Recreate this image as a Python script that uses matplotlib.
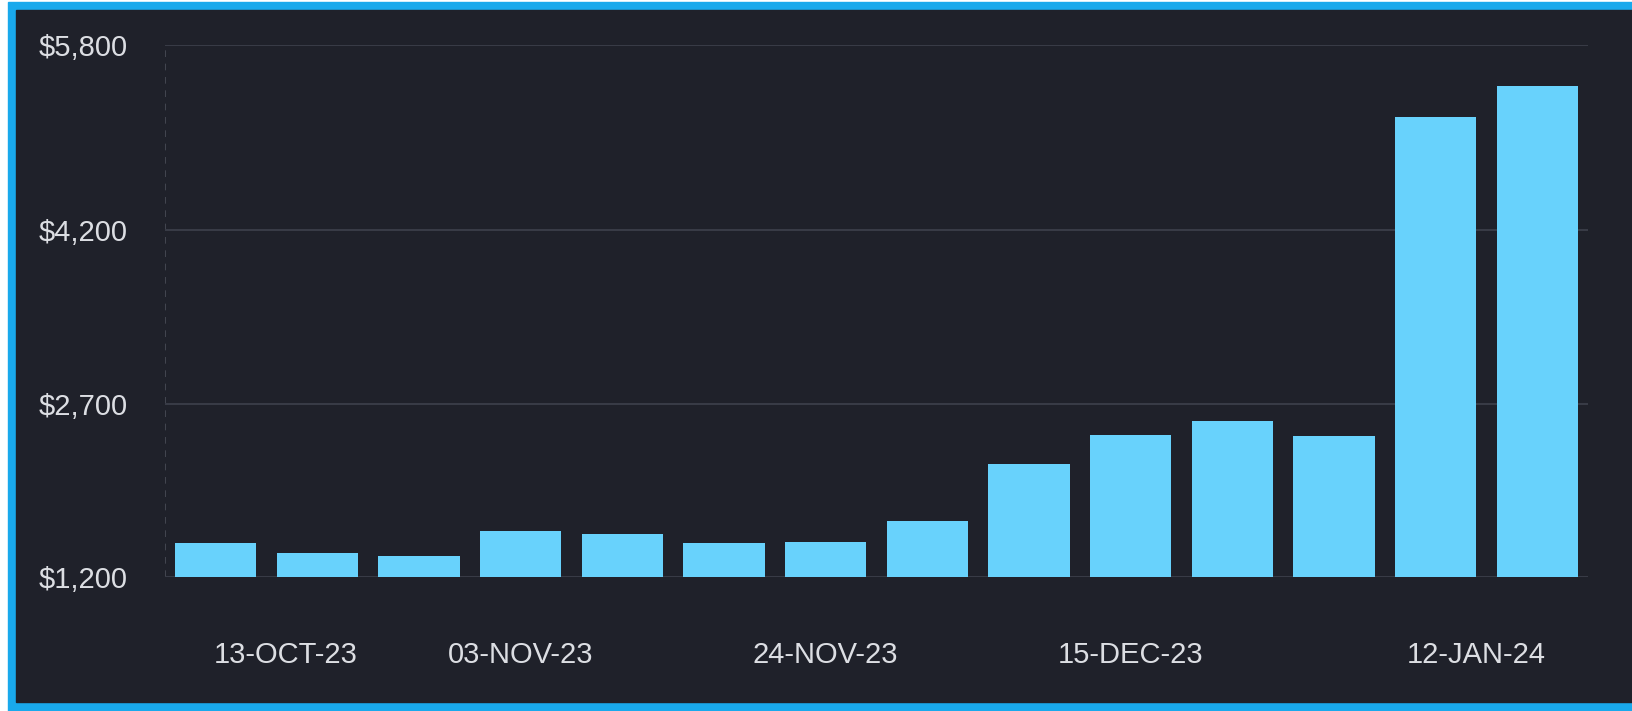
import matplotlib.pyplot as plt
from matplotlib.patches import Rectangle

# weekly spend, one bar per week
weeks = ['13-OCT-23', '20-OCT-23', '27-OCT-23', '03-NOV-23', '10-NOV-23', '17-NOV-23',
         '24-NOV-23', '01-DEC-23', '08-DEC-23', '15-DEC-23', '22-DEC-23', '29-DEC-23',
         '05-JAN-24', '12-JAN-24']
spend = [1490, 1410, 1385, 1600, 1570, 1490, 1500, 1680, 2175, 2430, 2545, 2420, 5175, 5445]

tick_labels = ['13-OCT-23', '03-NOV-23', '24-NOV-23', '15-DEC-23', '12-JAN-24']
tick_pos = [0.69, 3, 6, 9, 12.4]
y_ticks = [1200, 2700, 4200, 5800]

W, H = 1632, 711
bg = '#1f212a'
bar_col = '#68d2fc'
txt_col = '#dcdee3'

fig = plt.figure(figsize=(W / 100, H / 100), dpi=100, facecolor='white')
# cyan frame + dark panel, kept behind the axes
fig.patches.append(Rectangle((8 / W, 0), 1, 1 - 2 / H, transform=fig.transFigure,
                             color='#19a9ec', zorder=-10))
fig.patches.append(Rectangle((16 / W, 9 / H), 1, 1 - 19 / H, transform=fig.transFigure,
                             color=bg, zorder=-9))

ax = fig.add_axes([165 / W, 1 - 577 / H, (1588 - 165) / W, (577 - 45) / H])
ax.set_facecolor('none')

x = list(range(len(weeks)))
ax.bar(x, spend, width=0.8, bottom=0, color=bar_col, zorder=3)
ax.set_xlim(-0.5, len(weeks) - 0.5)
ax.set_ylim(1200, 5800)

ax.set_yticks(y_ticks)
ax.set_yticklabels(['${:,}'.format(v) for v in y_ticks])
ax.set_xticks(tick_pos)
ax.set_xticklabels(tick_labels)

for s in ax.spines.values():
    s.set_visible(False)
ax.grid(axis='y', color='#393c47', linewidth=1.4, zorder=1)
ax.axvline(-0.5, color='#4a4d57', linewidth=1.2, linestyle=(0, (4, 4)), zorder=1)

ax.tick_params(axis='both', length=0, colors=txt_col)
ax.tick_params(axis='x', pad=46, labelsize=21)
ax.tick_params(axis='y', pad=91, labelsize=21)
for lab in ax.get_yticklabels():
    lab.set_horizontalalignment('left')
for lab in ax.get_xticklabels() + ax.get_yticklabels():
    lab.set_family(['Liberation Sans', 'DejaVu Sans'])

fig.savefig('out.png', dpi=100, facecolor='white')
